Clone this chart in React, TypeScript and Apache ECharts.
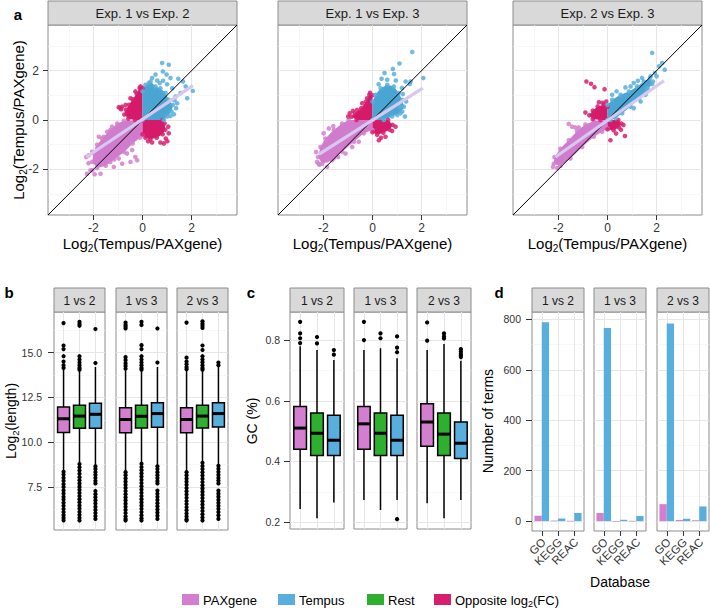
import React, { useEffect, useRef } from 'react';
import * as echarts from 'echarts';

const FONT = '"Liberation Sans", Arial, Helvetica, sans-serif';

const C_PAX = '#D47ECF';
const C_TEM = '#58AEDC';
const C_REST = '#2DB02D';
const C_OPP = '#D81E6E';
const CORE_PAX = '#D07BCB';
const CORE_TEM = '#4AA5D2';
const CORE_OPP = '#D51A6A';

// ---------- panel a : scatter ----------
const scatterTitles = ['Exp. 1 vs Exp. 2', 'Exp. 1 vs Exp. 3', 'Exp. 2 vs Exp. 3'];
const logTicks = [-2, 0, 2];
const logMinor = [-3, -1, 1, 3];
const logRange = [-3.85, 3.85];

const a1TemCore = [[0,0],[0,1.16],[0.12,1.43],[0.33,1.56],[0.53,1.36],[0.73,1.29],[0.94,1.09],[1.07,0.82],[1.24,0.61],[1.18,0.34],[1.01,0.14],[0.87,0]];
const a1TemPts = [[0.8,2.31],[1.07,2.24],[0.83,1.97],[0.98,1.84],[1.14,1.7],[0.84,1.59],[1.46,1.67],[1.65,1.56],[1.76,1.36],[1.55,1.09],[1.35,0.95],[1.82,0.88],[2.05,1.18],[1.41,0.68],[1.37,0.48],[1.28,0.23],[1.14,0.16],[0.53,1.84],[0.39,1.7],[0.26,1.5],[1.21,1.29],[0.6,1.6],[1.0,1.45],[1.3,0.8],[0.7,1.5]];
const a1OppUL = [[0,0],[0,1.3],[-0.12,1.3],[-0.24,1.06],[-0.4,0.84],[-0.55,0.62],[-0.68,0.42],[-0.74,0.22],[-0.58,0.05],[-0.3,0]];
const a1OppLR = [[0,0],[0.82,0],[0.9,-0.14],[0.93,-0.4],[0.82,-0.58],[0.58,-0.72],[0.32,-0.78],[0.12,-0.72],[0,-0.58]];
const a1OppPts = [[-0.9,0.48],[-0.83,0.54],[-0.69,0.61],[-0.49,0.88],[-0.29,1.16],[-0.08,1.36],[-0.97,0.52],[-0.87,0.44],[1.01,-0.86],[0.87,-0.95],[1.07,-0.54],[0.73,-0.91],[0.39,-0.91],[0.23,-0.86],[1.05,-0.27],[0.95,-0.75]];
const a1PaxCore = [[0,0],[-0.76,-0.03],[-1.03,-0.14],[-1.31,-0.41],[-1.58,-0.68],[-1.85,-1.0],[-2.0,-1.35],[-2.05,-1.7],[-1.85,-1.95],[-1.5,-1.85],[-1.15,-1.6],[-0.75,-1.3],[-0.4,-0.95],[-0.1,-0.72],[0,-0.61]];
const a1PaxPts = [[-2.19,-1.43],[-2.05,-1.29],[-1.85,-1.16],[-1.71,-1.02],[-1.92,-1.56],[-2.26,-2.18],[-2.05,-2.04],[-1.65,-1.77],[-1.31,-1.7],[-0.97,-1.56],[-0.63,-1.36],[-0.29,-1.5],[-0.22,-1.63],[-0.49,-1.7],[-0.83,-1.77],[-1.17,-1.9],[-1.51,-0.95],[-1.65,-0.75],[-1.44,-0.48],[-1.24,-0.27],[-0.97,-0.61],[-0.69,-0.88],[-0.42,-1.22],[-1.78,-0.68],[-1.31,-0.48],[-1.71,-2.18],[-2.12,-2.04],[-2.29,-1.5],[-2.2,-1.75],[-1.95,-2.2]];
const a1Fit = [[-2.29,-1.5],[2.05,1.39]];

const a2TemCore = [[0,0],[0,0.75],[0.12,1.02],[0.33,1.29],[0.6,1.43],[0.87,1.36],[1.07,1.09],[1.21,0.82],[1.28,0.54],[1.14,0.27],[0.8,0.14],[0.46,0]];
const a2TemPts = [[1.62,2.76],[1.1,2.29],[0.83,2.07],[0.88,1.86],[0.49,1.9],[0.37,1.67],[0.6,1.63],[1.35,1.56],[1.52,1.46],[1.24,1.05],[1.37,0.75],[1.21,0.34],[1.32,0.14],[1.01,0.2],[1.12,0.54],[0.95,1.6],[1.2,1.3],[0.25,1.45],[2.07,1.7],[1.55,1.56]];
const a2OppUL = [[0,0],[0,1.0],[-0.13,1.02],[-0.27,0.74],[-0.46,0.48],[-0.72,0.27],[-0.85,0.13],[-0.65,0]];
const a2OppLR = [[0,0],[0.64,0],[0.82,-0.2],[0.7,-0.4],[0.44,-0.52],[0.19,-0.6],[0,-0.5]];
const a2OppPts = [[-0.93,0.27],[-0.8,0.37],[-0.63,0.41],[-0.42,0.68],[-0.22,0.88],[-0.99,0.14],[0.26,-0.82],[0.53,-0.68],[0.8,-0.45],[0.94,-0.27],[0.35,-0.72],[-0.1,1.1]];
const a2PaxCore = [[0,0],[-0.97,0],[-1.24,-0.14],[-1.58,-0.41],[-1.92,-0.75],[-2.12,-1.09],[-2.22,-1.5],[-2.05,-1.77],[-1.65,-1.63],[-1.24,-1.29],[-0.76,-0.88],[-0.35,-0.54],[0,-0.41]];
const a2PaxPts = [[-2.26,-1.7],[-2.16,-1.81],[-1.85,-1.9],[-1.78,-0.34],[-1.99,-0.54],[-1.58,-1.56],[-1.1,-1.36],[-0.83,-1.09],[-0.56,-0.88],[-2.19,-1.77],[-1.85,-1.63],[-2.3,-1.3],[-1.4,-1.5],[-1.6,-0.25]];
const a2Fit = [[-2.19,-1.39],[2.05,1.29]];

const a3TemCore = [[0,0],[0,0.61],[0.19,0.82],[0.53,1.02],[0.87,1.16],[1.21,1.36],[1.48,1.56],[1.73,1.7],[1.82,1.46],[1.62,1.22],[1.28,0.88],[0.94,0.54],[0.6,0.27],[0.33,0.07],[0.12,0]];
const a3TemPts = [[1.82,2.72],[1.93,1.9],[1.76,1.77],[2.0,1.77],[1.41,1.7],[1.24,1.59],[1.07,1.5],[0.73,1.32],[0.37,1.16],[0.19,1.02],[0.94,1.36],[1.55,1.02],[1.35,0.75],[1.07,0.48],[1.62,1.29],[1.85,1.56],[2.23,2.31],[2.33,2.04],[2.1,2.18]];
const a3OppUL = [[0,0],[0,0.54],[-0.15,0.62],[-0.4,0.55],[-0.6,0.38],[-0.74,0.19],[-0.6,0.04],[-0.29,0]];
const a3OppLR = [[0,0],[0.44,0],[0.56,-0.14],[0.47,-0.3],[0.25,-0.42],[0,-0.38]];
const a3OppPts = [[-0.86,1.56],[-0.67,1.47],[-0.53,1.33],[-0.12,1.25],[-0.35,0.72],[-0.9,0.3],[-0.2,0.7],[-0.05,0.75],[0.71,-0.65],[0.12,-0.82],[0.55,-0.4],[0.65,-0.2],[0.35,-0.55]];
const a3PaxCore = [[0,0],[-0.56,-0.04],[-0.9,-0.18],[-1.24,-0.45],[-1.58,-0.82],[-1.92,-1.16],[-2.16,-1.5],[-2.19,-1.77],[-1.92,-1.86],[-1.51,-1.56],[-1.03,-1.09],[-0.56,-0.68],[-0.22,-0.48],[0,-0.34]];
const a3PaxPts = [[-1.58,-0.16],[-1.44,-0.27],[-1.31,-0.3],[-1.17,-0.3],[-2.22,-1.9],[-2.05,-1.95],[-1.7,-1.55],[-1.0,-0.85],[-0.8,-0.5]];
const a3Fit = [[-2.12,-1.5],[2.3,1.59]];

// ---------- panels b, c, d ----------
const shortTitles = ['1 vs 2', '1 vs 3', '2 vs 3'];
const boxGroups = ['PAXgene', 'Rest', 'Tempus'];
const catPos = [1, 2, 3];

// [lower whisker, Q1, median, Q3, upper whisker]
const lenStats12 = [[8.41,10.54,11.31,11.96,14.09],[8.85,10.78,11.46,12.07,14.0],[8.72,10.78,11.56,12.17,14.2]];
const lenStats13 = [[8.4,10.53,11.27,11.93,14.0],[8.85,10.8,11.45,12.07,14.0],[8.72,10.83,11.6,12.2,14.2]];
const lenStats23 = [[8.4,10.53,11.27,11.93,14.0],[8.9,10.8,11.46,12.07,14.0],[8.75,10.85,11.6,12.2,14.2]];
const lenOut12 = [
  [16.65,15.4,15.2,14.8,14.5,14.3,14.15,8.35,8.2,8.02,7.85,7.66,7.5,7.31,7.14,6.95,6.8,6.62,6.45,6.27,6.1,5.93,5.78,5.64],
  [16.72,16.6,16.5,14.8,14.62,14.45,14.3,14.15,14.05,8.78,8.6,8.42,8.24,8.05,7.88,7.7,7.52,7.35,7.17,7.0,6.82,6.65,6.47,6.3,6.12,5.95,5.78,5.63],
  [16.32,14.42,8.65,8.5,8.34,8.18,8.02,7.85,7.7,7.28,7.1,6.93,6.75,6.58,6.4,6.22,6.05,5.88,5.72],
];
const lenOut13 = [
  [16.68,16.55,16.45,16.35,14.75,14.58,14.4,14.25,14.1,8.33,8.16,7.98,7.8,7.62,7.45,7.28,7.1,6.92,6.75,6.57,6.4,6.22,6.05,5.87,5.72,5.63],
  [16.72,16.55,15.42,15.2,14.8,14.62,14.45,14.3,14.15,14.05,8.8,8.62,8.44,8.26,8.08,7.9,7.72,7.54,7.36,7.18,7.0,6.82,6.64,6.46,6.28,6.1,5.92,5.75,5.63],
  [16.35,14.45,8.66,8.5,8.33,8.16,8.0,7.84,7.7,7.3,7.12,6.95,6.78,6.6,6.42,6.25,6.07,5.9,5.72],
];
const lenOut23 = [
  [16.68,14.72,14.5,14.35,14.2,14.08,8.33,8.15,7.97,7.8,7.62,7.44,7.26,7.08,6.9,6.72,6.55,6.37,6.2,6.02,5.85,5.7,5.63],
  [16.75,16.62,16.5,16.38,15.4,15.15,14.8,14.62,14.46,14.3,14.15,14.05,8.85,8.67,8.5,8.32,8.14,7.96,7.78,7.6,7.42,7.24,7.06,6.88,6.7,6.52,6.34,6.16,5.98,5.8,5.63],
  [14.45,14.3,8.68,8.52,8.35,8.18,8.02,7.86,7.7,7.3,7.13,6.96,6.79,6.62,6.45,6.28,6.1,5.92,5.72],
];
const lenTicks = [7.5, 10, 12.5, 15];
const lenMinor = [6.25, 8.75, 11.25, 13.75, 16.25];
const lenRange = [5.1, 17.27];

const gcStats12 = [[0.243,0.44,0.51,0.581,0.78],[0.213,0.42,0.493,0.56,0.767],[0.265,0.42,0.47,0.552,0.734]];
const gcStats13 = [[0.273,0.44,0.524,0.581,0.767],[0.24,0.42,0.493,0.56,0.773],[0.273,0.42,0.47,0.552,0.74]];
const gcStats23 = [[0.262,0.45,0.53,0.59,0.767],[0.213,0.42,0.49,0.56,0.787],[0.273,0.41,0.46,0.53,0.732]];
const gcOut12 = [[0.86,0.822,0.806,0.79],[0.81,0.789],[0.767,0.752]];
const gcOut13 = [[0.86,0.8],[0.822,0.806],[0.812,0.775,0.76,0.21]];
const gcOut23 = [[0.858,0.798],[0.822,0.812,0.805],[0.77,0.762,0.755,0.749,0.744]];
const gcTicks = [0.2, 0.4, 0.6, 0.8];
const gcMinor = [0.3, 0.5, 0.7];
const gcRange = [0.1775, 0.8925];

const dbCats = ['GO', 'KEGG', 'REAC'];
const termsPax = [[21, 2, 1], [32, 0, 1], [67, 4, 3]];
const termsTem = [[789, 10, 32], [766, 5, 20], [784, 9, 58]];
const termTicks = [0, 200, 400, 600, 800];
const termMinor = [100, 300, 500, 700];
const termRange = [-39.5, 829.5];
const catRange = [0.4, 3.6];

const legendItems = ['PAXgene', 'Tempus', 'Rest', 'Opposite log{s|2}(FC)'];
const legendColors = [C_PAX, C_TEM, C_REST, C_OPP];

// ---------- layout ----------
const gridA = [{ left: 48, width: 189 }, { left: 278, width: 189 }, { left: 513, width: 189 }];
const gridB = [{ left: 54, width: 51 }, { left: 116, width: 51 }, { left: 177, width: 51 }];
const gridC = [{ left: 290, width: 54 }, { left: 354, width: 53 }, { left: 417, width: 54 }];
const gridD = [{ left: 532, width: 52 }, { left: 594, width: 52 }, { left: 657, width: 52 }];

function buildOption() {
  const grid: any[] = [];
  const xAxis: any[] = [];
  const yAxis: any[] = [];
  const series: any[] = [];
  const graphic: any[] = [];

  const addGrid = (left: number, top: number, width: number, height: number) => {
    grid.push({ left, top, width, height, show: true, backgroundColor: '#fff', borderColor: '#8c8c8c', borderWidth: 1, containLabel: false, outerBoundsMode: 'none' });
    return grid.length - 1;
  };

  const axis = (idx: number, range: number[], o: any) => ({
    type: 'value', gridIndex: idx, min: range[0], max: range[1],
    axisLine: { show: false, onZero: false },
    splitLine: { show: false },
    minorSplitLine: { show: false },
    axisTick: o.ticks ? { show: true, customValues: o.ticks, length: o.tickLen || 5, inside: false, lineStyle: { color: '#333', width: 1 } } : { show: false },
    axisLabel: o.ticks && o.labels ? {
      show: true, customValues: o.ticks, formatter: o.fmt, fontSize: o.fontSize || 11, color: '#333',
      fontFamily: FONT, margin: o.margin || 6,
      showMinLabel: true, showMaxLabel: true, hideOverlap: false,
    } : { show: false },
  });

  // background grid lines, kept underneath every data mark
  const gridLineSeries = (idx: number, xMaj: number[], xMin: number[], yMaj: number[], yMin: number[]) => {
    const minor = { color: '#f3f3f3', width: 0.7, type: 'solid' };
    const major = { color: '#e6e6e6', width: 1, type: 'solid' };
    return {
      type: 'line', xAxisIndex: idx, yAxisIndex: idx, data: [], z: 0, zlevel: 0, silent: true,
      markLine: {
        z: 0, silent: true, symbol: ['none', 'none'], label: { show: false }, emphasis: { disabled: true },
        data: [
          ...xMin.map((v) => ({ xAxis: v, lineStyle: minor })),
          ...yMin.map((v) => ({ yAxis: v, lineStyle: minor })),
          ...xMaj.map((v) => ({ xAxis: v, lineStyle: major })),
          ...yMaj.map((v) => ({ yAxis: v, lineStyle: major })),
        ],
      },
    };
  };

  const polySeries = (idx: number, pts: number[][], color: string) => ({
    type: 'custom', xAxisIndex: idx, yAxisIndex: idx, z: 2, clip: true, silent: true,
    data: pts, encode: { x: 0, y: 1 },
    renderItem: (params: any, api: any) => {
      if (params.dataIndex !== 0) return null;
      const points = pts.map((p) => api.coord(p));
      return { type: 'polygon', shape: { points }, style: { fill: color } };
    },
  });

  const ptSeries = (idx: number, pts: number[][], color: string) => ({
    type: 'scatter', xAxisIndex: idx, yAxisIndex: idx, z: 3, clip: true, silent: true,
    symbol: 'circle', symbolSize: 4.6, data: pts, itemStyle: { color, opacity: 0.85, borderWidth: 0 },
  });

  const strip = (left: number, width: number, top: number, label: string, fontSize: number) => {
    graphic.push({ type: 'rect', shape: { x: left, y: top, width, height: 24 }, style: { fill: '#d9d9d9', stroke: '#8c8c8c', lineWidth: 1 }, silent: true });
    graphic.push({ type: 'text', x: left + width / 2, y: top + 12.5, style: { text: label, fontSize, fontFamily: FONT, fill: '#1a1a1a', textAlign: 'center', textVerticalAlign: 'middle' }, silent: true });
  };

  // ----- panel a -----
  const aSets = [
    { tc: a1TemCore, tp: a1TemPts, ul: a1OppUL, lr: a1OppLR, op: a1OppPts, pc: a1PaxCore, pp: a1PaxPts, fit: a1Fit },
    { tc: a2TemCore, tp: a2TemPts, ul: a2OppUL, lr: a2OppLR, op: a2OppPts, pc: a2PaxCore, pp: a2PaxPts, fit: a2Fit },
    { tc: a3TemCore, tp: a3TemPts, ul: a3OppUL, lr: a3OppLR, op: a3OppPts, pc: a3PaxCore, pp: a3PaxPts, fit: a3Fit },
  ];
  aSets.forEach((s, i) => {
    const g = gridA[i];
    const idx = addGrid(g.left, 25, g.width, 190);
    xAxis.push(axis(idx, logRange, { ticks: logTicks, labels: true, fontSize: 12, margin: 7, tickLen: 5 }));
    yAxis.push(axis(idx, logRange, i === 0 ? { ticks: logTicks, labels: true, fontSize: 12, margin: 9, tickLen: 5 } : {}));
    series.push(gridLineSeries(idx, logTicks, logMinor, logTicks, logMinor));
    series.push(polySeries(idx, s.pc, CORE_PAX));
    series.push(ptSeries(idx, s.pc.concat(s.pp), C_PAX));
    series.push(polySeries(idx, s.ul, CORE_OPP));
    series.push(polySeries(idx, s.lr, CORE_OPP));
    series.push(ptSeries(idx, s.ul.concat(s.lr, s.op), C_OPP));
    series.push(polySeries(idx, s.tc, CORE_TEM));
    series.push(ptSeries(idx, s.tc.concat(s.tp), C_TEM));
    series.push({
      type: 'line', xAxisIndex: idx, yAxisIndex: idx, z: 4, silent: true, symbol: 'none',
      data: [[logRange[0], logRange[0]], [logRange[1], logRange[1]]], lineStyle: { color: '#000', width: 1 },
    });
    series.push({
      type: 'line', xAxisIndex: idx, yAxisIndex: idx, z: 5, silent: true, symbol: 'none',
      data: s.fit, lineStyle: { color: '#D6C8EF', width: 3.2 },
    });
    strip(g.left, g.width, 1, scatterTitles[i], 13);
    graphic.push({
      type: 'text', x: g.left + g.width / 2, y: 243, silent: true,
      style: {
        text: 'Log{s|2}(Tempus/PAXgene)', fontSize: 15, fontFamily: FONT, fill: '#000', textAlign: 'center', textVerticalAlign: 'middle',
        lineHeight: 20, rich: { s: { fontSize: 10, fontFamily: FONT, fill: '#000', verticalAlign: 'bottom', lineHeight: 11 } },
      },
    });
  });

  // ----- box panels -----
  const boxColors = [C_PAX, C_REST, C_TEM];
  const boxSeries = (idx: number, stats: number[][], bw: number) => ({
    type: 'custom', xAxisIndex: idx, yAxisIndex: idx, z: 3, silent: true,
    data: stats.map((s, i) => [catPos[i], ...s]),
    encode: { x: 0, y: [1, 2, 3, 4, 5] },
    renderItem: (params: any, api: any) => {
      const x = api.value(0);
      const lo = api.coord([x, api.value(1)]);
      const q1 = api.coord([x, api.value(2)]);
      const md = api.coord([x, api.value(3)]);
      const q3 = api.coord([x, api.value(4)]);
      const hi = api.coord([x, api.value(5)]);
      const w = api.size([bw, 0])[0];
      const cx = lo[0];
      return {
        type: 'group',
        children: [
          { type: 'line', shape: { x1: cx, y1: hi[1], x2: cx, y2: lo[1] }, style: { stroke: '#000', lineWidth: 1.5 } },
          { type: 'rect', shape: { x: cx - w / 2, y: q3[1], width: w, height: q1[1] - q3[1] }, style: { fill: boxColors[params.dataIndex], stroke: '#000', lineWidth: 1.5 } },
          { type: 'line', shape: { x1: cx - w / 2, y1: md[1], x2: cx + w / 2, y2: md[1] }, style: { stroke: '#000', lineWidth: 3 } },
        ],
      };
    },
  });
  const outSeries = (idx: number, outs: number[][]) => ({
    type: 'scatter', xAxisIndex: idx, yAxisIndex: idx, z: 4, silent: true, symbol: 'circle', symbolSize: 4.2,
    itemStyle: { color: '#000', opacity: 1, borderWidth: 0 },
    data: outs.flatMap((arr, gi) => arr.map((v) => [catPos[gi], v])),
  });

  const lenSets = [[lenStats12, lenOut12], [lenStats13, lenOut13], [lenStats23, lenOut23]];
  lenSets.forEach((s, i) => {
    const g = gridB[i];
    const idx = addGrid(g.left, 312, g.width, 218);
    xAxis.push(axis(idx, catRange, {}));
    yAxis.push(axis(idx, lenRange, i === 0 ? { ticks: lenTicks, labels: true, fontSize: 10.5, margin: 12, tickLen: 6, fmt: (v: number) => v.toFixed(1) } : {}));
    series.push(gridLineSeries(idx, catPos, [], lenTicks, lenMinor));
    series.push(boxSeries(idx, s[0] as number[][], 0.75));
    series.push(outSeries(idx, s[1] as number[][]));
    strip(g.left, g.width, 288, shortTitles[i], 12);
  });

  const gcSets = [[gcStats12, gcOut12], [gcStats13, gcOut13], [gcStats23, gcOut23]];
  gcSets.forEach((s, i) => {
    const g = gridC[i];
    const idx = addGrid(g.left, 312, g.width, 217);
    xAxis.push(axis(idx, catRange, {}));
    yAxis.push(axis(idx, gcRange, i === 0 ? { ticks: gcTicks, labels: true, fontSize: 10.5, margin: 10, tickLen: 6, fmt: (v: number) => v.toFixed(1) } : {}));
    series.push(gridLineSeries(idx, catPos, [], gcTicks, gcMinor));
    series.push(boxSeries(idx, s[0] as number[][], 0.75));
    series.push(outSeries(idx, s[1] as number[][]));
    strip(g.left, g.width, 288, shortTitles[i], 12);
  });

  const barSeries = (idx: number, vals: number[], color: string, side: number) => ({
    type: 'custom', xAxisIndex: idx, yAxisIndex: idx, z: 3, silent: true,
    data: vals.map((v, i) => [catPos[i], v]), encode: { x: 0, y: 1 },
    renderItem: (params: any, api: any) => {
      const x = api.value(0) + side * 0.225;
      const top = api.coord([x, api.value(1)]);
      const base = api.coord([x, 0]);
      const w = api.size([0.45, 0])[0];
      return { type: 'rect', shape: { x: top[0] - w / 2, y: top[1], width: w, height: Math.max(base[1] - top[1], 0.6) }, style: { fill: color } };
    },
  });

  // category labels of the Database axis, rotated 45 degrees and right-aligned at each tick
  const dbLabelSeries = (idx: number) => ({
    type: 'custom', xAxisIndex: idx, yAxisIndex: idx, z: 6, silent: true, clip: false,
    data: catPos.map((p, i) => [p, termRange[0], i]), encode: { x: 0, y: 1 },
    renderItem: (params: any, api: any) => {
      const pt = api.coord([api.value(0), api.value(1)]);
      return {
        type: 'text', x: pt[0] + 2, y: pt[1] + 9, rotation: Math.PI / 4,
        style: { text: dbCats[params.dataIndex], fontSize: 11.5, fontFamily: FONT, fill: '#333', textAlign: 'right', textVerticalAlign: 'middle' },
      };
    },
  });

  termsPax.forEach((pv, i) => {
    const g = gridD[i];
    const idx = addGrid(g.left, 312, g.width, 219);
    xAxis.push(axis(idx, catRange, { ticks: catPos, labels: false, tickLen: 5 }));
    yAxis.push(axis(idx, termRange, i === 0 ? { ticks: termTicks, labels: true, fontSize: 10.5, margin: 11, tickLen: 6 } : {}));
    series.push(gridLineSeries(idx, catPos, [], termTicks, termMinor));
    series.push(barSeries(idx, pv, C_PAX, -1));
    series.push(barSeries(idx, termsTem[i], C_TEM, 1));
    series.push(dbLabelSeries(idx));
    strip(g.left, g.width, 288, shortTitles[i], 12);
  });

  // ----- titles and letters -----
  const letter = (t: string, x: number, y: number) =>
    graphic.push({ type: 'text', x, y, silent: true, style: { text: t, fontSize: 15, fontWeight: 'bold', fontFamily: FONT, fill: '#000', textAlign: 'center', textVerticalAlign: 'middle' } });
  letter('a', 18, 14);
  letter('b', 9, 292);
  letter('c', 251, 292);
  letter('d', 499, 292);

  const vTitle = (t: string, x: number, y: number, fs: number) =>
    graphic.push({
      type: 'text', x, y, rotation: Math.PI / 2, silent: true,
      style: {
        text: t, fontSize: fs, fontFamily: FONT, fill: '#000', textAlign: 'center', textVerticalAlign: 'middle', lineHeight: fs + 5,
        rich: { s: { fontSize: fs * 0.68, fontFamily: FONT, fill: '#000', verticalAlign: 'bottom', lineHeight: fs * 0.72 } },
      },
    });
  vTitle('Log{s|2}(Tempus/PAXgene)', 18, 120, 15);
  vTitle('Log{s|2}(length)', 11, 421, 14);
  vTitle('GC (%)', 252, 421, 14);
  vTitle('Number of terms', 488, 421, 14);
  graphic.push({ type: 'text', x: 620, y: 582, silent: true, style: { text: 'Database', fontSize: 14, fontFamily: FONT, fill: '#000', textAlign: 'center', textVerticalAlign: 'middle' } });

  // ----- legend -----
  const legX = [182, 278, 367, 434];
  legendItems.forEach((t, i) => {
    graphic.push({ type: 'rect', silent: true, shape: { x: legX[i], y: 594, width: 17, height: 11 }, style: { fill: legendColors[i] } });
    graphic.push({
      type: 'text', x: legX[i] + 21, y: 600, silent: true,
      style: {
        text: t, fontSize: 13, fontFamily: FONT, fill: '#000', textAlign: 'left', textVerticalAlign: 'middle', lineHeight: 17,
        rich: { s: { fontSize: 9, fontFamily: FONT, fill: '#000', verticalAlign: 'bottom', lineHeight: 9 } },
      },
    });
  });

  return { animation: false, backgroundColor: '#fff', grid, xAxis, yAxis, series, graphic };
}

export default function App() {
  const ref = useRef<HTMLDivElement>(null);
  useEffect(() => {
    const chart = echarts.init(ref.current as HTMLDivElement, null, { renderer: 'svg' });
    chart.setOption(buildOption() as any);
    return () => chart.dispose();
  }, []);
  return <div ref={ref} style={{ position: 'fixed', left: 0, top: 0, width: 710, height: 610, background: '#fff' }} />;
}
